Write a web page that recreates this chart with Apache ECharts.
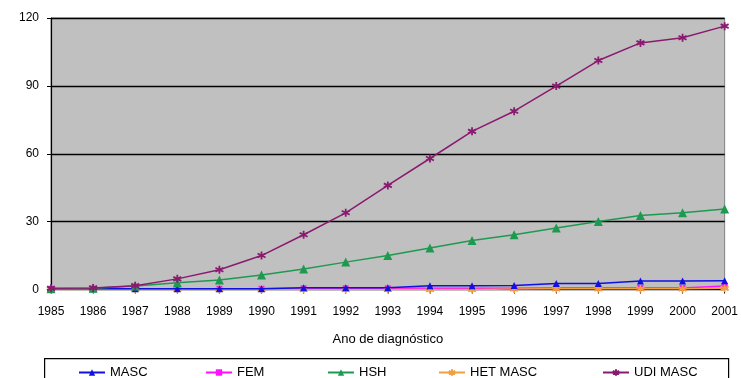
<!DOCTYPE html>
<html>
<head>
<meta charset="utf-8">
<script src="https://cdn.jsdelivr.net/npm/echarts@6/dist/echarts.min.js"></script>
<style>
  html, body { margin: 0; padding: 0; background: #ffffff; }
  #chart { width: 741px; height: 378px; }
</style>
</head>
<body>
<div id="chart"></div>
<script>
// Cumulative cases by year of diagnosis, per transmission category
const years = ['1985','1986','1987','1988','1989','1990','1991','1992','1993','1994','1995','1996','1997','1998','1999','2000','2001'];
const masc   = [0.3, 0.3, 0.3, 0.3, 0.3, 0.3, 0.8, 0.8, 0.8, 1.7, 1.7, 1.8, 2.7, 2.7, 3.8, 3.8, 3.9];
const fem    = [0.3, 0.3, 0.3, 0.3, 0.3, 0.3, 0.5, 0.5, 0.5, 0.5, 0.5, 0.6, 0.7, 0.7, 0.7, 0.7, 1.5];
const hsh    = [0.3, 0.6, 1.5, 3, 4.2, 6.4, 9.1, 12.1, 15, 18.3, 21.7, 24.2, 27.2, 30.1, 32.7, 33.9, 35.6];
const hetMasc= [0, 0, 0, 0, 0, 0, 0, 0, 0, 0, 0, 0.2, 0.3, 0.3, 0.3, 0.3, 0.5];
const udiMasc= [0.5, 0.7, 1.7, 4.7, 8.7, 15, 24.2, 33.9, 46, 57.9, 69.9, 78.8, 89.9, 101.2, 109, 111.3, 116.4];
const yTicks = [0, 30, 60, 90, 120];

const FONT = 'Liberation Sans, Arial, sans-serif';
const starPath = 'path://M0,-10L0,10M-9,-5L9,5M-9,5L9,-5';

const seriesDefs = [
  { name: 'MASC', data: masc, color: '#1010e0', symbol: 'triangle', size: 7 },
  { name: 'FEM', data: fem, color: '#ff10ff', symbol: 'rect', size: 6 },
  { name: 'HSH', data: hsh, color: '#1e9a50', symbol: 'triangle', size: 9 },
  { name: 'HET MASC', data: hetMasc, color: '#f0a040', symbol: starPath, size: 8 },
  { name: 'UDI MASC', data: udiMasc, color: '#8a1a70', symbol: starPath, size: 8 }
];

const chart = echarts.init(document.getElementById('chart'), null, { renderer: 'canvas' });

const legendLeft = [73, 200, 322, 433, 597];

chart.setOption({
  animation: false,
  backgroundColor: '#ffffff',
  textStyle: { fontFamily: FONT },
  grid: {
    left: 51, right: 14, top: 18, bottom: 88.5,
    show: true, backgroundColor: '#c0c0c0', borderColor: '#808080', borderWidth: 1
  },
  graphic: [{
    type: 'rect', left: 44, top: 358, z: -1,
    shape: { width: 684, height: 30 },
    style: { fill: '#ffffff', stroke: '#000000', lineWidth: 1.2 }
  }],
  legend: seriesDefs.map((s, i) => ({
    data: [s.name],
    left: legendLeft[i], top: 361,
    itemWidth: 26, itemHeight: 8, itemGap: 4,
    textStyle: { fontSize: 13, color: '#000', fontFamily: FONT },
    selectedMode: false
  })),
  xAxis: {
    type: 'category',
    data: years,
    boundaryGap: false,
    name: 'Ano de diagnóstico',
    nameLocation: 'middle',
    nameGap: 43,
    nameTextStyle: { fontSize: 13, color: '#000', fontFamily: FONT },
    axisLine: { lineStyle: { color: '#000', width: 1.2 } },
    axisTick: { show: true, alignWithLabel: true, length: 4, lineStyle: { color: '#000' } },
    axisLabel: { fontSize: 12, color: '#000', margin: 16, interval: 0, fontFamily: FONT },
    splitLine: { show: false }
  },
  yAxis: {
    type: 'value',
    min: yTicks[0], max: yTicks[yTicks.length - 1], interval: 30,
    axisLine: { show: true, lineStyle: { color: '#000', width: 1.2 } },
    axisTick: { show: true, length: 4, lineStyle: { color: '#000' } },
    axisLabel: { fontSize: 12, color: '#000', margin: 12, fontFamily: FONT },
    splitLine: { show: true, lineStyle: { color: '#000', width: 1.3 } }
  },
  series: seriesDefs.map((s, i) => ({
    name: s.name,
    type: 'line',
    data: s.data,
    symbol: s.symbol,
    symbolSize: s.size,
    showSymbol: true,
    z: i === 4 ? 6 : (i === 2 ? 5 : 3 + (i === 0 ? 1 : 0)),
    lineStyle: { color: s.color, width: 1.5 },
    itemStyle: { color: s.color, borderColor: s.color, borderWidth: s.symbol === starPath ? 1.8 : 0 },
    emphasis: { disabled: true }
  }))
});
</script>
</body>
</html>
